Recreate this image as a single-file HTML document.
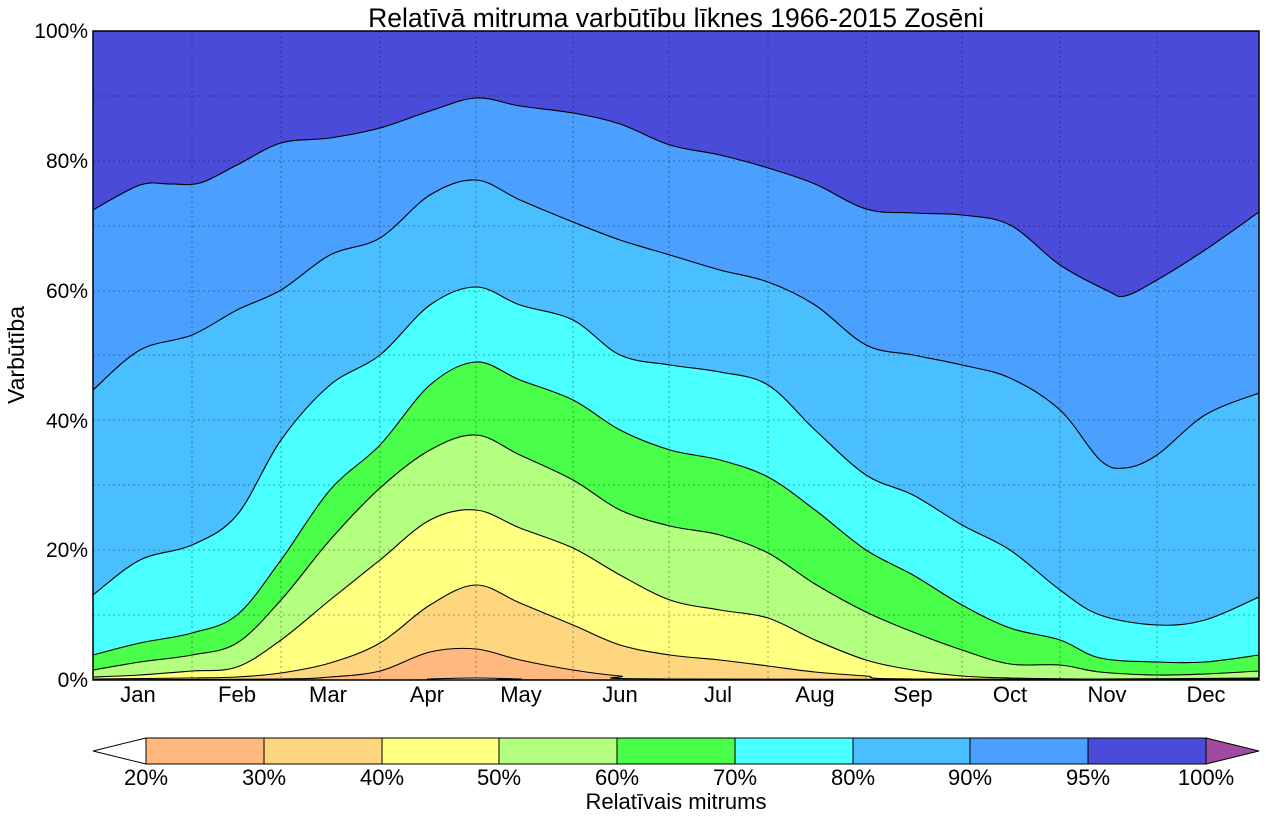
<!DOCTYPE html><html><head><meta charset="utf-8"><style>body{margin:0;background:#fff}svg{display:block;font-family:"Liberation Sans",sans-serif}</style></head><body>
<svg id="s" width="1266" height="820" xmlns="http://www.w3.org/2000/svg">
<defs><clipPath id="c"><rect x="93" y="31" width="1166" height="649"/></clipPath></defs>
<g id="areas" clip-path="url(#c)" stroke="#000" stroke-width="1.1" stroke-linejoin="round">
<rect x="93" y="31" width="1166" height="649" fill="#4a4bd8" stroke="none"/>
</g>
<g stroke="#000" stroke-opacity="0.45" stroke-dasharray="2,3" stroke-width="0.8">
<path d="M192,31V680M281,31V680M380,31V680M476,31V680M573,31V680M669,31V680M768,31V680M866,31V680M962,31V680M1060,31V680M1157,31V680"/>
<path d="M93,96H1259M93,161H1259M93,226H1259M93,291H1259M93,355H1259M93,420H1259M93,485H1259M93,550H1259M93,615H1259"/>
</g>
<rect x="93" y="31" width="1166" height="649" fill="none" stroke="#000" stroke-width="1.5"/>
<text x="676" y="27" font-size="26.5" text-anchor="middle">Relatīvā mitruma varbūtību līknes 1966-2015 Zosēni</text>
<g font-size="21" text-anchor="end">
<text x="88" y="38">100%</text><text x="88" y="168">80%</text><text x="88" y="298">60%</text><text x="88" y="428">40%</text><text x="88" y="557">20%</text><text x="88" y="687">0%</text></g>
<text transform="translate(24,355) rotate(-90)" font-size="23" text-anchor="middle">Varbūtība</text>
<g font-size="22" text-anchor="middle">
<text x="138" y="702">Jan</text><text x="237" y="702">Feb</text><text x="328" y="702">Mar</text><text x="427" y="702">Apr</text><text x="521" y="702">May</text><text x="620" y="702">Jun</text><text x="718" y="702">Jul</text><text x="815" y="702">Aug</text><text x="913" y="702">Sep</text><text x="1010" y="702">Oct</text><text x="1107" y="702">Nov</text><text x="1206" y="702">Dec</text></g>
<g stroke="#000" stroke-width="1">
<polygon points="93,751 146,738 146,764" fill="#fff"/>
<rect x="146" y="738" width="118" height="26" fill="#ffb880"/>
<rect x="264" y="738" width="118" height="26" fill="#ffd680"/>
<rect x="382" y="738" width="117" height="26" fill="#ffff80"/>
<rect x="499" y="738" width="118" height="26" fill="#b3ff80"/>
<rect x="617" y="738" width="118" height="26" fill="#4aff4a"/>
<rect x="735" y="738" width="118" height="26" fill="#4affff"/>
<rect x="853" y="738" width="117" height="26" fill="#4abfff"/>
<rect x="970" y="738" width="118" height="26" fill="#4a9fff"/>
<rect x="1088" y="738" width="118" height="26" fill="#4a4bd8"/>
<polygon points="1206,738 1259,751 1206,764" fill="#a04aa0"/>
</g>
<g font-size="22" text-anchor="middle">
<text x="146" y="785">20%</text><text x="264" y="785">30%</text><text x="382" y="785">40%</text><text x="499" y="785">50%</text><text x="617" y="785">60%</text><text x="735" y="785">70%</text><text x="853" y="785">80%</text><text x="970" y="785">90%</text><text x="1088" y="785">95%</text><text x="1206" y="785">100%</text>
<text x="676" y="809">Relatīvais mitrums</text></g>
</svg>
<script>
var D=[
["#4a9fff","93,210 140,185 170,184 200,183 237,165 281,143 330,138 380,128 430,111 476,98 520,106 573,113 620,124 670,145 720,155 768,168 815,184 866,209 913,213 962,215 1010,225 1060,265 1108,291 1125,296 1157,280 1205,250 1259,212"],
["#4abfff","93,390 140,350 192,335 237,310 281,290 330,255 380,238 430,195 476,180 520,200 573,222 620,240 670,255 720,270 768,282 815,305 866,345 913,355 962,365 1010,378 1060,410 1100,460 1125,468 1157,455 1205,415 1259,393"],
["#4affff","93,595 140,560 192,545 237,515 281,440 330,385 380,355 430,305 476,287 520,305 573,320 620,355 670,365 720,372 768,385 815,430 866,475 913,495 962,525 1010,550 1060,590 1100,615 1157,625 1205,620 1259,597"],
["#4aff4a","93,655 140,643 192,633 237,615 281,560 330,490 380,445 430,385 476,362 520,380 573,400 620,430 670,450 720,460 768,477 815,510 866,550 913,575 962,605 1010,628 1060,640 1100,658 1157,662 1205,662 1259,655"],
["#b3ff80","93,670 140,662 192,655 237,643 281,600 330,540 380,488 430,450 476,435 520,455 573,480 620,510 670,526 720,535 768,553 815,584 866,612 913,632 962,650 1010,664 1060,665 1100,672 1157,675 1205,674 1259,671"],
["#ffff80","93,677 140,675 192,671 237,667 281,640 330,600 380,560 430,520 476,510 520,528 573,548 620,575 670,600 720,610 768,618 815,640 866,660 913,670 962,676 1010,678 1100,679 1259,678"],
["#ffd680","93,679 192,678 237,677 281,673 330,663 380,643 430,605 476,585 520,603 573,625 620,645 670,655 720,660 768,666 815,672 866,676 913,679 1259,679"],
["#ffb880","93,680 281,679 330,677 380,671 430,652 476,649 520,660 573,670 620,676 670,679 1259,679.5"],
["#fff","93,680 400,680 430,679 476,678 520,679 560,680 1259,680"]];
var g=document.getElementById("areas"),ns="http://www.w3.org/2000/svg";
D.forEach(function(d){
 var p=d[1].split(" ").map(function(s){return s.split(",").map(Number)});
 var s="M"+p[0][0]+","+p[0][1];
 for(var i=0;i<p.length-1;i++){
  var a=p[i-1]||p[i],b=p[i],c=p[i+1],e=p[i+2]||c;
  s+=" C"+(b[0]+(c[0]-a[0])/6)+","+(b[1]+(c[1]-a[1])/6)+" "+(c[0]-(e[0]-b[0])/6)+","+(c[1]-(e[1]-b[1])/6)+" "+c[0]+","+c[1];
 }
 s+=" L1259,690 L93,690Z";
 var el=document.createElementNS(ns,"path");el.setAttribute("d",s);el.setAttribute("fill",d[0]);g.appendChild(el);
});
</script>
</body></html>
